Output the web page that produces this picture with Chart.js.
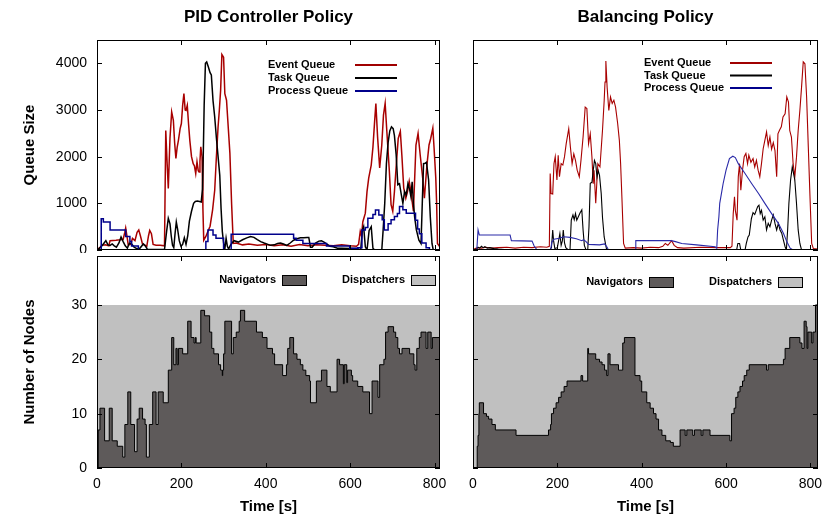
<!DOCTYPE html>
<html>
<head>
<meta charset="utf-8">
<script src="https://cdn.jsdelivr.net/npm/chart.js@4.4.0/dist/chart.umd.min.js"></script>
<style>
  html, body { margin: 0; padding: 0; background: #fff; }
  #wrap { position: relative; width: 827px; height: 519px; }
  canvas { position: absolute; }
</style>
</head>
<body>
<div id="wrap">
  <canvas id="pidQueues" width="455" height="253" style="left:0;top:0"></canvas>
  <canvas id="balQueues" width="372" height="253" style="left:455px;top:0"></canvas>
  <canvas id="pidNodes" width="455" height="266" style="left:0;top:253px"></canvas>
  <canvas id="balNodes" width="372" height="266" style="left:455px;top:253px"></canvas>
</div>
<script>
// tick labels
const xTicks = [0, 200, 400, 600, 800];
const queueTicks = [0, 1000, 2000, 3000, 4000];
const nodeTicks = [0, 10, 20, 30];
const totalNodes = 30;

// PID controller policy: [time s, queue size]
const pidEventQueue = [
  [0, 0], [2, 20], [8, 60], [11, 100], [20, 110], [28, 90], [31, 200], [45, 210], [55, 220], [62, 230],
  [66, 380], [68, 470], [71, 300], [74, 110], [80, 120], [84, 250], [90, 200], [95, 380], [99, 430],
  [103, 300], [108, 120], [113, 110], [118, 80], [122, 300], [125, 420], [129, 350], [133, 120],
  [140, 100], [150, 100], [160, 90], [163, 2560], [166, 1900], [169, 1320], [173, 2400], [177, 2960],
  [181, 2780], [184, 2300], [187, 1960], [190, 2200], [193, 2350], [197, 2600], [200, 2710], [203, 3100],
  [206, 3350], [209, 3000], [211, 2990], [214, 3100], [217, 2700], [220, 2350], [224, 2000], [228, 1850],
  [231, 1800], [234, 1640], [237, 1890], [240, 1700], [242, 1670], [244, 1900], [246, 2210], [249, 2000],
  [251, 900], [253, 210], [258, 290], [263, 400], [268, 510], [274, 860], [279, 1280], [283, 2000],
  [287, 2640], [290, 3000], [293, 3420], [296, 4190], [300, 4130], [303, 3350], [307, 3210], [311, 2640],
  [315, 2070], [319, 1000], [323, 140], [330, 150], [345, 110], [360, 130], [380, 100], [400, 120],
  [420, 90], [440, 110], [460, 80], [480, 120], [500, 90], [520, 110], [540, 100], [560, 90], [580, 110],
  [600, 90], [615, 80], [620, 120], [624, 400], [627, 300], [630, 600], [636, 790], [640, 1250],
  [644, 1540], [650, 1820], [654, 2200], [658, 2750], [661, 3140], [665, 2430], [670, 1760], [675, 2250],
  [679, 2890], [683, 3140], [687, 2540], [693, 1680], [697, 970], [701, 830], [705, 1250], [710, 1900],
  [714, 2390], [719, 2540], [723, 1970], [727, 1330], [732, 1110], [736, 1250], [740, 1470], [744, 1250],
  [750, 830], [756, 2250], [761, 2500], [766, 2040], [772, 1540], [776, 1110], [782, 1820], [787, 2250],
  [791, 2390], [796, 2610], [799, 2180], [803, 1540], [805, 1000], [807, 140], [813, 60]
];
const pidTaskQueue = [
  [0, 0], [4, 20], [8, 60], [12, 90], [16, 140], [21, 200], [26, 110], [31, 100], [36, 130], [41, 90],
  [46, 60], [52, 150], [57, 280], [62, 180], [67, 90], [72, 40], [77, 150], [82, 130], [88, 60], [94, 30],
  [100, 20], [110, 130], [115, 80], [120, 10], [160, 10], [165, 400], [169, 680], [173, 560], [176, 300],
  [179, 100], [182, 50], [185, 350], [188, 600], [191, 450], [195, 200], [199, 80], [203, 120], [207, 260],
  [211, 120], [215, 300], [219, 620], [224, 830], [229, 1000], [233, 1040], [238, 1050], [243, 1040],
  [247, 1030], [250, 1300], [252, 2100], [254, 3100], [257, 4000], [260, 4030], [264, 3920], [268, 3800],
  [271, 3750], [275, 3200], [279, 2850], [283, 2400], [287, 2000], [291, 1600], [294, 900], [297, 400],
  [300, 150], [303, 20], [306, 250], [309, 80], [312, 20], [316, 100], [320, 150], [325, 200], [335, 170],
  [345, 220], [355, 260], [364, 290], [372, 270], [380, 220], [388, 180], [396, 150], [405, 120],
  [411, 100], [420, 110], [428, 140], [435, 150], [442, 130], [450, 100], [458, 150], [466, 210],
  [474, 240], [482, 260], [490, 260], [498, 270], [502, 270], [506, 60], [510, 60], [518, 150], [526, 190],
  [532, 200], [538, 170], [546, 120], [552, 80], [560, 70], [570, 40], [580, 40], [600, 30], [616, 30],
  [625, 0], [629, 430], [632, 500], [636, 70], [640, 0], [645, 420], [650, 500], [654, 40], [658, 0],
  [675, 0], [678, 400], [682, 1000], [686, 1850], [690, 2300], [694, 2550], [698, 2640], [702, 2600],
  [705, 2450], [709, 2050], [713, 1400], [717, 1420], [721, 1200], [725, 1000], [729, 1250], [733, 1180],
  [737, 1420], [741, 1300], [744, 1150], [747, 1460], [750, 1000], [753, 700], [757, 430], [763, 210],
  [768, 140], [771, 1000], [774, 1850], [778, 1860], [781, 1880], [786, 1500], [790, 710], [794, 140],
  [797, 0], [813, 0]
];
const pidProcessQueue = [
  [0, 0], [10, 670], [15, 600], [31, 430], [68, 290], [78, 180], [82, 85], [98, 0], [256, 0], [258, 180],
  [263, 430], [275, 320], [282, 250], [300, 0], [318, 335], [461, 335], [466, 250], [472, 210],
  [488, 140], [544, 85], [599, 40], [618, 50], [628, 430], [636, 480], [642, 680], [654, 760], [660, 855],
  [668, 750], [676, 650], [681, 430], [690, 560], [697, 650], [705, 720], [712, 780], [717, 930],
  [725, 860], [733, 790], [755, 640], [760, 450], [764, 350], [770, 150], [780, 50], [788, 0], [813, 0]
];

// Balancing policy: [time s, queue size]
const balEventQueue = [
  [0, 0], [5, 30], [12, 50], [20, 40], [30, 60], [45, 40], [60, 50], [80, 60], [100, 40], [120, 60],
  [140, 50], [160, 70], [175, 60], [181, 80], [183, 1640], [185, 1210], [189, 1200], [192, 1850],
  [195, 2000], [199, 1500], [202, 2030], [205, 1570], [209, 1850], [213, 1820], [217, 2000], [221, 2280],
  [227, 2600], [231, 2200], [235, 1850], [239, 2060], [243, 1920], [247, 1710], [252, 1570], [256, 1920],
  [261, 2420], [266, 3060], [270, 3030], [274, 2280], [278, 2490], [282, 1990], [285, 1420], [287, 1710],
  [291, 1000], [296, 1850], [301, 1780], [307, 2560], [311, 3200], [313, 3600], [315, 4050], [318, 3490],
  [322, 2990], [326, 3280], [330, 3140], [334, 3210], [338, 3060], [343, 2710], [347, 2350], [350, 1850],
  [353, 1140], [357, 140], [361, 40], [380, 50], [400, 40], [420, 60], [440, 50], [450, 80], [456, 140],
  [462, 100], [471, 200], [477, 100], [485, 50], [500, 40], [540, 60], [580, 50], [610, 50], [614, 80],
  [617, 780], [620, 1140], [622, 850], [626, 640], [629, 1570], [632, 1850], [635, 1280], [639, 1710],
  [643, 2000], [647, 2070], [651, 1850], [654, 2030], [659, 1880], [664, 1960], [668, 1780], [672, 1920],
  [676, 1710], [680, 1570], [684, 1850], [688, 2170], [692, 2350], [696, 2530], [700, 2240], [704, 2420],
  [708, 2160], [712, 2300], [716, 2130], [720, 1570], [723, 2490], [727, 2570], [731, 2640], [735, 2850],
  [740, 2920], [744, 3280], [748, 3170], [751, 2560], [755, 2420], [759, 1850], [763, 1570], [767, 1990],
  [771, 2560], [775, 2990], [779, 3490], [783, 4030], [787, 3990], [791, 3280], [795, 2210], [799, 1140],
  [803, 140], [807, 30], [818, 20]
];
const balTaskQueue = [
  [0, 0], [8, 20], [12, 60], [16, 40], [20, 80], [24, 50], [28, 70], [34, 40], [40, 50], [50, 30],
  [60, 20], [75, 10], [85, 0], [182, 0], [186, 50], [189, 430], [191, 200], [194, 30], [200, 50],
  [206, 350], [209, 100], [212, 200], [214, 430], [217, 150], [220, 50], [226, 0], [230, 0], [233, 640],
  [237, 750], [240, 650], [243, 780], [246, 640], [250, 720], [254, 800], [258, 860], [261, 430],
  [264, 100], [268, 0], [272, 0], [275, 500], [278, 1430], [282, 1450], [285, 1700], [288, 1920],
  [291, 1850], [294, 1560], [297, 1700], [300, 1600], [304, 1210], [307, 700], [311, 280], [317, 0],
  [625, 0], [628, 140], [632, 140], [635, 0], [645, 0], [648, 140], [652, 280], [655, 320], [657, 460],
  [660, 670], [664, 800], [668, 760], [672, 860], [675, 930], [678, 960], [681, 780], [684, 850],
  [688, 640], [692, 710], [696, 430], [700, 570], [704, 500], [708, 640], [712, 750], [716, 570],
  [720, 430], [724, 570], [728, 430], [732, 360], [736, 210], [740, 70], [743, 0], [746, 430],
  [749, 1000], [753, 1500], [757, 1780], [760, 1640], [763, 1500], [767, 1000], [771, 430], [775, 140],
  [779, 0], [818, 0]
];
const balProcessQueue = [
  [0, 0], [9, 0], [12, 430], [15, 320], [88, 320], [91, 200], [140, 190], [145, 85], [152, 0], [184, 0],
  [187, 170], [192, 230], [205, 250], [215, 285], [230, 270], [245, 240], [258, 200], [262, 220],
  [268, 180], [274, 120], [300, 110], [312, 130], [318, 60], [321, 0], [385, 0], [386, 200], [470, 200],
  [480, 180], [495, 140], [530, 110], [574, 70], [578, 40], [580, 430], [583, 710], [585, 1000],
  [589, 1210], [593, 1420], [600, 1710], [608, 1960], [616, 2010], [622, 1980], [629, 1850], [645, 1640],
  [661, 1420], [677, 1210], [692, 1000], [708, 780], [724, 570], [736, 360], [744, 180], [752, 40],
  [759, 0], [818, 0]
];

// Navigator nodes, value holds until the next change: [time s, nodes]
const pidNavigators = [
  [0, 0], [3, 7], [7, 11], [18, 5], [29, 11], [36, 5], [48, 4], [61, 2], [66, 8], [73, 14], [80, 8],
  [89, 3], [95, 9], [100, 11], [108, 9], [114, 8], [117, 2], [124, 8], [132, 14], [140, 8], [145, 14],
  [157, 12], [169, 18], [177, 24], [182, 19], [187, 22], [190, 19], [193, 22], [203, 21], [215, 27],
  [223, 24], [230, 23], [233, 24], [235, 23], [246, 29], [255, 28], [267, 25], [272, 22], [277, 21],
  [288, 19], [293, 18], [297, 17], [298, 18], [300, 21], [303, 27], [319, 21], [323, 24], [330, 25],
  [337, 27], [340, 29], [350, 27], [378, 25], [392, 24], [403, 22], [416, 21], [421, 19], [440, 17],
  [449, 19], [452, 22], [457, 24], [466, 21], [474, 20], [482, 19], [488, 18], [495, 17], [504, 16],
  [506, 12], [520, 16], [532, 18], [545, 15], [553, 14], [569, 20], [575, 19], [584, 15.5], [586, 19],
  [592, 15.7], [594, 18], [603, 17], [606, 16], [618, 15], [630, 14], [646, 10], [652, 16], [666, 13],
  [670, 19], [680, 20], [684, 25], [690, 26], [703, 25], [708, 24], [713, 22], [717, 21], [723, 22],
  [741, 21], [751, 19], [754, 18], [758, 22], [764, 24], [768, 25], [776, 25], [780, 22], [784, 25],
  [792, 22], [795, 24], [813, 24]
];
const balNavigators = [
  [0, 0], [6, 0], [10, 4], [12, 6], [14, 10], [15, 12], [25, 10], [32, 9.5], [37, 9], [45, 8], [53, 7],
  [102, 6], [179, 7], [184, 8], [186, 10], [191, 11], [197, 12], [203, 13], [209, 14], [216, 15],
  [223, 16], [256, 17], [260, 16], [272, 22], [274, 21], [291, 20], [300, 19.5], [306, 19], [312, 18],
  [317, 17], [320, 21], [325, 19], [345, 18], [355, 23], [359, 24], [384, 17], [396, 16], [400, 14],
  [412, 12], [420, 11], [428, 10], [434, 9], [440, 7], [448, 6], [457, 5], [468, 4.7], [475, 4],
  [491, 7], [503, 6], [507, 7], [521, 6], [525, 7], [541, 6], [545, 7], [562, 6], [609, 5], [613, 10],
  [619, 11], [623, 13], [628, 14], [633, 15], [639, 16], [643, 17], [649, 18], [655, 19], [696, 18],
  [700, 19], [736, 20], [740, 22], [751, 24], [775, 23], [780, 22], [785, 27], [790, 26], [792, 22],
  [794, 25], [800, 25], [803, 23], [806, 25], [812, 30], [818, 30]
];

const family = "'Liberation Sans', Arial, Helvetica, sans-serif";
const pts = arr => arr.map(([x, y]) => ({ x, y }));

// gnuplot-like frame with inward ticks on all four sides
const frameTicks = {
  id: "frameTicks",
  afterDatasetsDraw(chart) {
    const { ctx, chartArea: a, scales } = chart;
    ctx.save();
    ctx.strokeStyle = "#000";
    ctx.lineWidth = 1;
    ctx.beginPath();
    scales.x.ticks.forEach(t => {
      const px = Math.round(scales.x.getPixelForValue(t.value)) + 0.5;
      ctx.moveTo(px, a.top); ctx.lineTo(px, a.top + 5);
      ctx.moveTo(px, a.bottom); ctx.lineTo(px, a.bottom - 5);
    });
    scales.y.ticks.forEach(t => {
      const py = Math.round(scales.y.getPixelForValue(t.value)) + 0.5;
      ctx.moveTo(a.left, py); ctx.lineTo(a.left + 5, py);
      ctx.moveTo(a.right, py); ctx.lineTo(a.right - 5, py);
    });
    ctx.stroke();
    ctx.strokeRect(a.left + 0.5, a.top + 0.5, a.right - a.left - 1, a.bottom - a.top - 1);
    ctx.restore();
  }
};

const panelTitle = {
  id: "panelTitle",
  afterDraw(chart, args, opts) {
    if (!opts.text) return;
    const { ctx, chartArea: a } = chart;
    ctx.save();
    ctx.font = "bold 17px " + family;
    ctx.fillStyle = "#000";
    ctx.textAlign = "center";
    ctx.textBaseline = "middle";
    ctx.fillText(opts.text, (a.left + a.right) / 2, opts.y);
    ctx.restore();
  }
};

// key: label text then a line sample
const lineKey = {
  id: "lineKey",
  afterDraw(chart, args, opts) {
    if (!opts.textX) return;
    const { ctx, chartArea: a } = chart;
    ctx.save();
    ctx.font = "bold 11px " + family;
    ctx.textBaseline = "middle";
    chart.data.datasets.forEach((ds, i) => {
      const y = a.top + opts.top + i * opts.gap;
      ctx.fillStyle = "#000";
      ctx.textAlign = "left";
      ctx.fillText(ds.label, a.left + opts.textX, y);
      ctx.strokeStyle = ds.keyColor;
      ctx.lineWidth = 2;
      ctx.beginPath();
      ctx.moveTo(a.left + opts.lineX, y);
      ctx.lineTo(a.left + opts.lineX + 42, y);
      ctx.stroke();
    });
    ctx.restore();
  }
};

// key: label text then a filled box
const boxKey = {
  id: "boxKey",
  afterDraw(chart, args, opts) {
    if (!opts.boxX) return;
    const { ctx, chartArea: a } = chart;
    ctx.save();
    ctx.font = "bold 11px " + family;
    ctx.textBaseline = "middle";
    ctx.textAlign = "right";
    chart.data.datasets.forEach((ds, i) => {
      const x = a.left + opts.boxX[i];
      const y = a.top + opts.y;
      ctx.fillStyle = "#000";
      ctx.fillText(ds.label, x - 6, y);
      ctx.fillStyle = ds.backgroundColor;
      ctx.fillRect(x, y - 5, 25, 10);
      ctx.strokeStyle = "#000";
      ctx.lineWidth = 1;
      ctx.strokeRect(x + 0.5, y - 4.5, 24, 10);
    });
    ctx.restore();
  }
};

function xScale(max, labelled) {
  return {
    type: "linear", min: 0, max,
    afterBuildTicks: s => { s.ticks = xTicks.map(v => ({ value: v })); },
    afterFit: s => { s.height = labelled ? 51 : 0; s.paddingLeft = 0; s.paddingRight = 0; },
    grid: { display: false, drawTicks: false },
    border: { display: false },
    ticks: { display: labelled, padding: 8, color: "#000", font: { family, size: 14 }, maxRotation: 0, callback: v => String(v) },
    title: { display: labelled, text: "Time [s]", color: "#000", font: { family, size: 15, weight: "bold" }, padding: { top: 4, bottom: 3 } }
  };
}

function yScale(max, ticks, title) {
  const labelled = !!title;
  return {
    type: "linear", min: 0, max,
    afterBuildTicks: s => { s.ticks = ticks.map(v => ({ value: v })); },
    afterFit: s => { s.width = labelled ? 81 : 0; s.paddingTop = 0; s.paddingBottom = 0; },
    grid: { display: false, drawTicks: false },
    border: { display: false },
    ticks: { display: labelled, padding: 10, color: "#000", font: { family, size: 14 }, callback: v => String(v) },
    title: { display: labelled, text: title || "", color: "#000", font: { family, size: 15, weight: "bold" }, padding: { top: 5, bottom: 4 } }
  };
}

function queueChart(id, opts) {
  const w = opts.lineWidth;
  return new Chart(document.getElementById(id), {
    type: "line",
    data: {
      datasets: [
        { label: "Event Queue", data: pts(opts.event), borderColor: "#a80000", keyColor: "#a00000", borderWidth: w, order: 3 },
        { label: "Task Queue", data: pts(opts.task), borderColor: "#000", keyColor: "#000", borderWidth: w, order: 2 },
        { label: "Process Queue", data: pts(opts.process), borderColor: opts.blue, keyColor: "#00008b", borderWidth: w, order: 1, stepped: opts.blueStepped }
      ]
    },
    options: {
      responsive: false,
      animation: false,
      events: [],
      elements: { point: { radius: 0 }, line: { tension: 0, fill: false } },
      layout: { padding: opts.padding },
      scales: { x: xScale(opts.xMax, false), y: yScale(4500, queueTicks, opts.yTitle) },
      plugins: {
        legend: { display: false },
        tooltip: { enabled: false },
        panelTitle: { text: opts.title, y: 17 },
        lineKey: opts.key
      }
    },
    plugins: [frameTicks, panelTitle, lineKey]
  });
}

function nodeChart(id, opts) {
  return new Chart(document.getElementById(id), {
    type: "line",
    data: {
      datasets: [
        { label: "Navigators", data: pts(opts.navigators), stepped: true, fill: "origin", backgroundColor: "#5e5a5a", borderColor: "#000", borderWidth: 1, order: 1 },
        { label: "Dispatchers", data: [{ x: 0, y: totalNodes }, { x: opts.xMax, y: totalNodes }], fill: "origin", backgroundColor: "#c0c0c0", borderWidth: 0, order: 2 }
      ]
    },
    options: {
      responsive: false,
      animation: false,
      events: [],
      elements: { point: { radius: 0 }, line: { tension: 0 } },
      layout: { padding: opts.padding },
      scales: { x: xScale(opts.xMax, true), y: yScale(39, nodeTicks, opts.yTitle) },
      plugins: {
        legend: { display: false },
        tooltip: { enabled: false },
        boxKey: opts.key
      }
    },
    plugins: [frameTicks, boxKey]
  });
}

queueChart("pidQueues", {
  title: "PID Controller Policy", yTitle: "Queue Size", xMax: 813,
  event: pidEventQueue, task: pidTaskQueue, process: pidProcessQueue,
  blue: "#00008b", blueStepped: true, lineWidth: 1.5,
  padding: { left: 16, top: 40, right: 15, bottom: 3 },
  key: { textX: 171, lineX: 258, top: 25, gap: 13 }
});
queueChart("balQueues", {
  title: "Balancing Policy", yTitle: null, xMax: 818,
  event: balEventQueue, task: balTaskQueue, process: balProcessQueue,
  blue: "#2a2aa8", blueStepped: false, lineWidth: 1.1,
  padding: { left: 18, top: 40, right: 9, bottom: 3 },
  key: { textX: 171, lineX: 257, top: 23, gap: 12.5 }
});
nodeChart("pidNodes", {
  yTitle: "Number of Nodes", xMax: 813, navigators: pidNavigators,
  padding: { left: 16, top: 3, right: 15, bottom: 0 },
  key: { boxX: [185, 314], y: 24 }
});
nodeChart("balNodes", {
  yTitle: null, xMax: 818, navigators: balNavigators,
  padding: { left: 18, top: 3, right: 9, bottom: 0 },
  key: { boxX: [176, 305], y: 26 }
});
</script>
</body>
</html>
